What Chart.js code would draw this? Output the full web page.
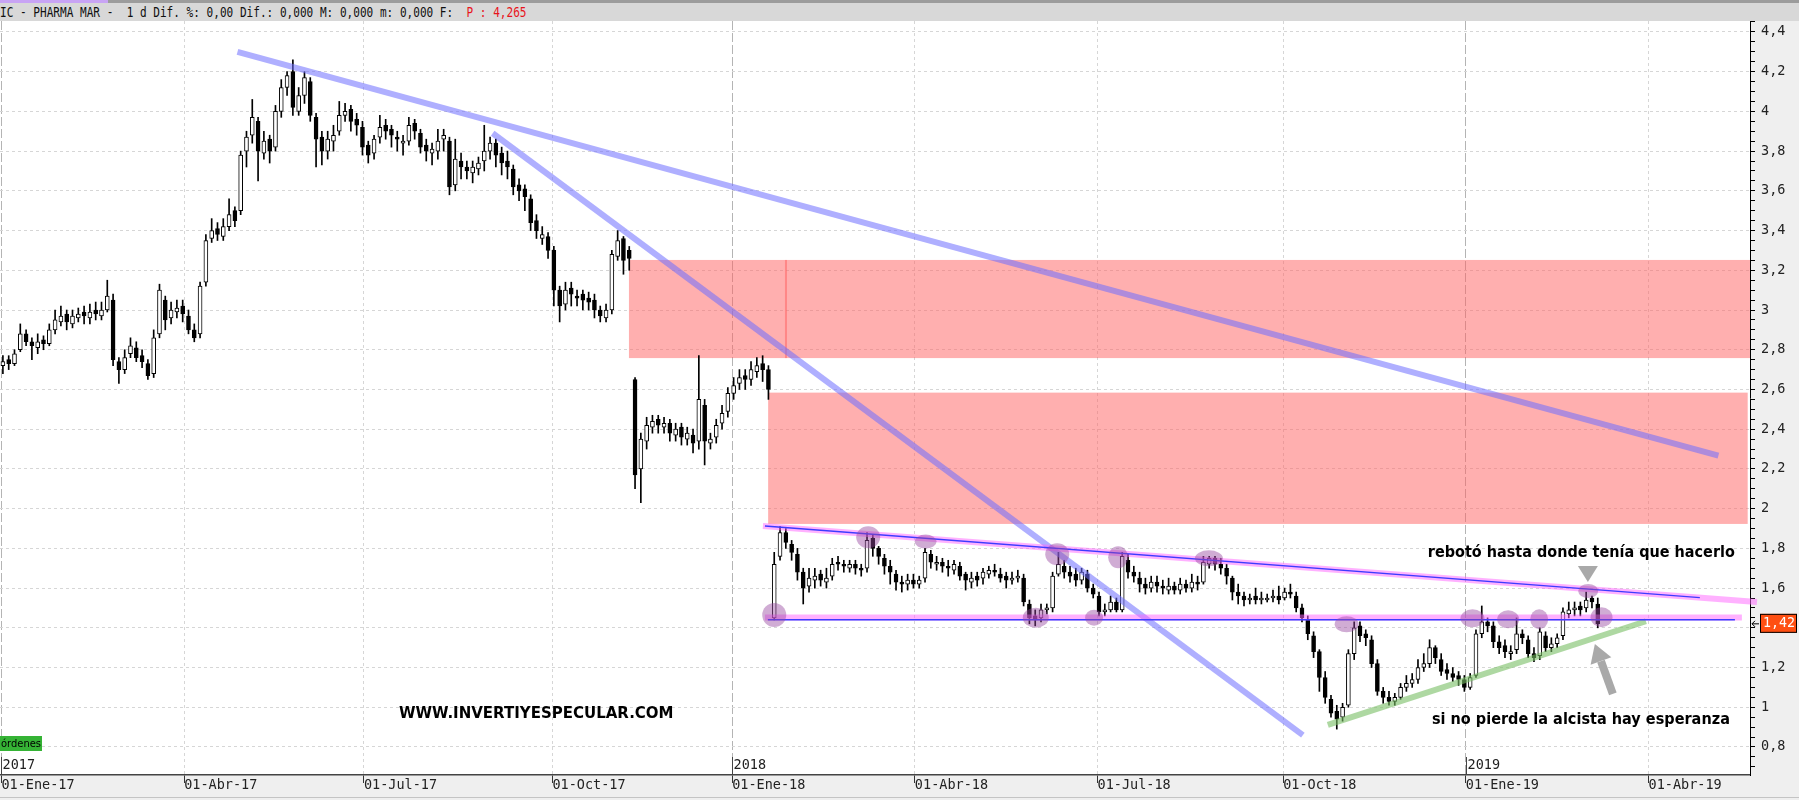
<!DOCTYPE html>
<html>
<head>
<meta charset="utf-8">
<script src="https://cdn.jsdelivr.net/npm/chart.js@4.4.1/dist/chart.umd.min.js"></script>
<style>
  html, body { margin: 0; padding: 0; background: #fff; overflow: hidden; }
  #wrap { position: relative; width: 1799px; height: 800px; }
  #chart { position: absolute; left: 0; top: 0; }
  #hdr { position: absolute; left: 0; top: 0; width: 1799px; height: 21px; background: #d8d8d8;
         border-top: 3px solid #9c9c9c; box-sizing: border-box; }
  #hdr .tab { position: absolute; left: 0; top: -3px; width: 108px; height: 3px; background: #c8a4f4; }
  #hdr .txt { position: absolute; left: 0; top: 1px; white-space: pre; font: 13.5px "DejaVu Sans Mono", monospace;
              color: #111; transform: scaleX(0.82); transform-origin: left top; }
  #hdr .txt span { color: #e8141c; }
</style>
</head>
<body>
<div id="wrap">
  <canvas id="chart" width="1799" height="800"></canvas>
  <div id="hdr"><div class="tab"></div><div class="txt">IC - PHARMA MAR -  1 d Dif. %: 0,00 Dif.: 0,000 M: 0,000 m: 0,000 F:  <span>P : 4,265</span></div></div>
</div>
<script>
// each candle = 2 trading days, starting 2 Jan 2017
const periodDays = 2;
const opens = [
  2.72,2.75,2.73,2.8,2.88,2.84,2.81,2.85,2.83,2.9,2.94,2.98,
  2.93,2.96,2.99,2.96,3.0,2.97,3.0,3.05,2.74,2.7,2.78,2.81,
  2.77,2.73,2.68,2.88,3.05,2.96,2.99,3.02,2.97,2.9,2.88,3.14,
  3.36,3.41,3.37,3.42,3.5,3.5,3.8,3.88,3.95,3.79,3.86,3.82,
  4.0,4.12,4.2,4.0,4.08,4.15,3.97,3.87,3.8,3.85,3.9,3.98,
  4.01,3.96,3.92,3.83,3.79,3.87,3.93,3.91,3.87,3.84,3.85,3.94,
  3.89,3.83,3.79,3.8,3.86,3.85,3.63,3.75,3.72,3.69,3.71,3.75,
  3.8,3.84,3.79,3.75,3.71,3.63,3.61,3.56,3.45,3.36,3.37,3.3,
  3.1,3.03,3.11,3.07,3.08,3.06,3.05,3.0,2.96,3.0,3.27,3.36,
  3.3,2.65,2.2,2.34,2.41,2.45,2.41,2.43,2.37,2.41,2.35,2.37,
  2.34,2.52,2.33,2.36,2.43,2.49,2.58,2.63,2.67,2.65,2.69,2.73,
  2.7,1.45,1.76,1.88,1.82,1.77,1.68,1.61,1.64,1.67,1.63,1.66,
  1.73,1.72,1.7,1.72,1.7,1.7,1.85,1.8,1.75,1.71,1.67,1.63,
  1.62,1.64,1.62,1.65,1.77,1.72,1.73,1.71,1.69,1.71,1.67,1.63,
  1.66,1.65,1.67,1.69,1.67,1.66,1.64,1.65,1.65,1.52,1.46,1.45,
  1.49,1.5,1.67,1.71,1.68,1.67,1.64,1.67,1.6,1.56,1.48,1.49,
  1.53,1.49,1.74,1.68,1.65,1.62,1.6,1.63,1.61,1.59,1.61,1.59,
  1.62,1.6,1.63,1.63,1.72,1.75,1.72,1.7,1.65,1.58,1.56,1.54,
  1.56,1.54,1.54,1.55,1.56,1.55,1.58,1.56,1.5,1.44,1.36,1.28,
  1.15,1.04,0.98,0.95,1.01,1.27,1.41,1.37,1.34,1.22,1.08,1.05,
  1.03,1.05,1.1,1.12,1.14,1.2,1.22,1.3,1.24,1.19,1.17,1.16,
  1.14,1.1,1.16,1.37,1.43,1.41,1.33,1.31,1.27,1.29,1.37,1.34,
  1.27,1.26,1.36,1.3,1.32,1.36,1.47,1.49,1.51,1.5,1.55,1.52
];
const highs = [
  2.77,2.77,2.8,2.93,2.9,2.86,2.88,2.87,2.93,3.0,3.02,3.0,
  3.0,3.01,3.02,3.03,3.04,3.04,3.15,3.08,2.76,2.8,2.86,2.84,
  2.8,2.75,2.9,3.13,3.07,3.04,3.05,3.05,3.0,2.93,3.14,3.38,
  3.46,3.44,3.46,3.56,3.52,3.8,3.9,4.06,3.97,3.9,3.88,4.03,
  4.16,4.2,4.26,4.12,4.2,4.17,3.99,3.9,3.9,3.93,4.05,4.04,
  4.03,3.99,3.95,3.85,3.88,3.98,3.96,3.93,3.9,3.88,3.97,3.96,
  3.91,3.86,3.84,3.91,3.91,3.87,3.86,3.79,3.75,3.75,3.77,3.93,
  3.87,3.86,3.82,3.8,3.73,3.66,3.63,3.58,3.48,3.42,3.39,3.32,
  3.12,3.14,3.14,3.1,3.1,3.09,3.08,3.02,3.03,3.3,3.4,3.37,
  3.32,2.66,2.38,2.46,2.47,2.47,2.46,2.45,2.43,2.43,2.41,2.4,
  2.77,2.55,2.38,2.45,2.52,2.61,2.66,2.7,2.7,2.74,2.76,2.77,
  2.72,1.78,1.91,1.9,1.84,1.8,1.7,1.7,1.7,1.69,1.7,1.75,
  1.76,1.74,1.74,1.74,1.72,1.88,1.87,1.81,1.77,1.74,1.69,1.66,
  1.67,1.67,1.66,1.8,1.79,1.76,1.75,1.74,1.74,1.73,1.68,1.68,
  1.68,1.7,1.71,1.72,1.7,1.68,1.68,1.69,1.67,1.54,1.49,1.52,
  1.52,1.68,1.78,1.74,1.71,1.7,1.7,1.69,1.62,1.58,1.52,1.56,
  1.55,1.78,1.77,1.71,1.68,1.65,1.66,1.66,1.64,1.65,1.63,1.65,
  1.64,1.67,1.66,1.76,1.76,1.76,1.75,1.72,1.66,1.62,1.58,1.57,
  1.6,1.58,1.57,1.59,1.61,1.6,1.62,1.58,1.52,1.46,1.38,1.29,
  1.18,1.06,1.01,1.02,1.29,1.43,1.43,1.39,1.36,1.24,1.1,1.08,
  1.07,1.12,1.16,1.17,1.24,1.27,1.34,1.31,1.27,1.22,1.2,1.18,
  1.16,1.17,1.39,1.51,1.45,1.43,1.36,1.34,1.31,1.45,1.39,1.36,
  1.3,1.4,1.38,1.35,1.37,1.5,1.53,1.53,1.53,1.58,1.56,1.55
];
const lows = [
  2.68,2.7,2.72,2.79,2.82,2.75,2.78,2.8,2.82,2.88,2.92,2.9,
  2.91,2.94,2.93,2.93,2.95,2.95,2.99,2.72,2.63,2.68,2.76,2.74,
  2.71,2.65,2.66,2.86,2.9,2.93,2.96,2.94,2.88,2.84,2.86,3.12,
  3.34,3.35,3.35,3.4,3.42,3.48,3.72,3.84,3.65,3.76,3.74,3.8,
  3.97,4.08,3.98,3.98,4.04,3.95,3.72,3.73,3.76,3.8,3.88,3.95,
  3.9,3.88,3.78,3.74,3.76,3.84,3.86,3.82,3.8,3.78,3.83,3.86,
  3.79,3.75,3.73,3.76,3.8,3.58,3.6,3.66,3.66,3.64,3.68,3.7,
  3.76,3.72,3.68,3.66,3.58,3.55,3.5,3.4,3.36,3.33,3.26,3.02,
  2.94,3.0,3.02,3.02,3.0,3.0,2.96,2.94,2.94,2.98,3.25,3.18,
  3.2,2.1,2.03,2.3,2.38,2.38,2.38,2.34,2.34,2.32,2.32,2.28,
  2.3,2.22,2.3,2.33,2.4,2.46,2.55,2.6,2.6,2.62,2.66,2.64,
  2.55,1.44,1.74,1.8,1.74,1.64,1.52,1.58,1.6,1.61,1.6,1.64,
  1.69,1.68,1.68,1.67,1.66,1.68,1.76,1.72,1.67,1.62,1.59,1.58,
  1.59,1.6,1.6,1.63,1.7,1.69,1.68,1.66,1.67,1.64,1.59,1.6,
  1.61,1.62,1.65,1.66,1.63,1.6,1.62,1.63,1.51,1.42,1.41,1.43,
  1.47,1.48,1.66,1.65,1.63,1.61,1.62,1.58,1.55,1.46,1.46,1.48,
  1.48,1.48,1.65,1.63,1.58,1.57,1.58,1.58,1.57,1.57,1.57,1.57,
  1.58,1.58,1.59,1.62,1.7,1.69,1.67,1.62,1.54,1.52,1.51,1.52,
  1.52,1.52,1.53,1.53,1.52,1.54,1.55,1.48,1.43,1.34,1.25,1.08,
  1.02,0.95,0.89,0.93,1.0,1.24,1.33,1.31,1.2,1.06,1.02,1.01,
  1.01,1.04,1.08,1.1,1.12,1.18,1.2,1.22,1.16,1.14,1.13,1.11,
  1.08,1.09,1.15,1.35,1.38,1.3,1.27,1.25,1.24,1.27,1.32,1.25,
  1.23,1.24,1.28,1.28,1.3,1.34,1.45,1.46,1.46,1.48,1.5,1.4
];
const closes = [
  2.74,2.73,2.78,2.88,2.84,2.82,2.84,2.83,2.9,2.95,2.97,2.94,
  2.97,2.98,2.97,2.99,2.98,3.0,3.07,2.75,2.7,2.76,2.82,2.76,
  2.74,2.67,2.86,3.1,2.95,3.0,3.01,2.98,2.9,2.86,3.12,3.35,
  3.4,3.38,3.42,3.48,3.45,3.78,3.87,3.97,3.8,3.85,3.8,4.0,
  4.12,4.18,4.02,4.08,4.17,3.98,3.86,3.8,3.86,3.88,3.98,4.0,
  3.95,3.93,3.82,3.78,3.86,3.92,3.9,3.88,3.86,3.85,3.93,3.9,
  3.82,3.8,3.81,3.85,3.88,3.62,3.76,3.72,3.7,3.72,3.74,3.8,
  3.84,3.78,3.74,3.72,3.62,3.6,3.57,3.44,3.4,3.38,3.3,3.1,
  3.02,3.1,3.08,3.06,3.05,3.04,3.0,2.97,3.0,3.28,3.35,3.25,
  3.26,2.17,2.35,2.42,2.44,2.42,2.43,2.38,2.4,2.36,2.38,2.33,
  2.55,2.34,2.35,2.42,2.48,2.58,2.62,2.66,2.65,2.7,2.72,2.7,
  2.6,1.72,1.88,1.83,1.78,1.68,1.6,1.65,1.66,1.64,1.65,1.72,
  1.72,1.71,1.72,1.7,1.69,1.84,1.8,1.76,1.71,1.68,1.63,1.62,
  1.64,1.62,1.64,1.78,1.73,1.73,1.71,1.7,1.72,1.66,1.64,1.65,
  1.64,1.68,1.69,1.68,1.65,1.64,1.65,1.66,1.53,1.45,1.44,1.49,
  1.5,1.66,1.72,1.68,1.66,1.64,1.68,1.6,1.57,1.48,1.49,1.53,
  1.49,1.76,1.68,1.66,1.62,1.6,1.63,1.61,1.6,1.61,1.59,1.62,
  1.6,1.63,1.62,1.73,1.75,1.72,1.7,1.66,1.58,1.56,1.54,1.55,
  1.54,1.55,1.55,1.56,1.54,1.58,1.57,1.5,1.45,1.37,1.28,1.15,
  1.05,0.97,0.94,1.0,1.27,1.4,1.36,1.35,1.22,1.08,1.05,1.03,
  1.05,1.1,1.12,1.14,1.2,1.22,1.3,1.25,1.18,1.17,1.15,1.14,
  1.1,1.15,1.37,1.43,1.41,1.33,1.3,1.28,1.28,1.37,1.35,1.27,
  1.25,1.38,1.3,1.32,1.35,1.48,1.49,1.5,1.49,1.54,1.53,1.42
];

// x axis in trading days since 2 Jan 2017
const xTickDays = [0, 63, 125, 190, 252, 315, 378, 442, 505, 568];
const xTickLabels = ['01-Ene-17', '01-Abr-17', '01-Jul-17', '01-Oct-17', '01-Ene-18',
                     '01-Abr-18', '01-Jul-18', '01-Oct-18', '01-Ene-19', '01-Abr-19'];
const yearLabels = ['2017', '2018', '2019'];
const yearTickIdx = [0, 4, 8];
const yTickValues = [0.8, 1, 1.2, 1.4, 1.6, 1.8, 2, 2.2, 2.4, 2.6, 2.8, 3, 3.2, 3.4, 3.6, 3.8, 4, 4.2, 4.4];
const yTickLabels = ['0,8', '1', '1,2', '1,4', '1,6', '1,8', '2', '2,2', '2,4', '2,6', '2,8', '3',
                     '3,2', '3,4', '3,6', '3,8', '4', '4,2', '4,4'];

// drawings on the chart, in (trading day, price)
const zones = [
  { d0: 216.4, d1: 270.9, v0: 2.758, v1: 3.252 },
  { d0: 270.2, d1: 603, v0: 2.758, v1: 3.252 },
  { d0: 264.4, d1: 602.2, v0: 1.923, v1: 2.584 }
];
const thickLines = [
  { a: [81.4, 4.30], b: [592.1, 2.267], color: 'rgba(110,110,255,0.55)' },
  { a: [169.4, 3.89], b: [448.8, 0.86], color: 'rgba(110,110,255,0.55)' },
  { a: [262.6, 1.913], b: [605.4, 1.530], color: 'rgba(255,100,255,0.5)' },
  { a: [263.3, 1.452], b: [600.2, 1.452], color: 'rgba(255,100,255,0.5)' },
  { a: [457.4, 0.911], b: [567.1, 1.433], color: 'rgba(120,190,100,0.6)' }
];
const thinLines = [
  { a: [263.3, 1.913], b: [585.7, 1.552] },
  { a: [264.3, 1.44], b: [597.8, 1.44] }
];
const circles = [
  [266.5, 1.464, 12, 12], [298.9, 1.856, 12, 11], [318.7, 1.834, 11, 7],
  [356.7, 1.451, 13, 10], [364.1, 1.77, 12, 11], [376.8, 1.451, 9, 8],
  [385.1, 1.755, 10, 11], [416.4, 1.75, 14, 8], [463.9, 1.418, 12, 8],
  [507.3, 1.448, 12, 9], [519.6, 1.443, 11, 9], [530.3, 1.443, 9, 10],
  [547.2, 1.585, 10, 7], [551.8, 1.453, 11, 10]
];
const notes = [
  { text: 'rebotó hasta donde tenía que hacerlo', d: 491.9, v: 1.777, w: 307 },
  { text: 'si no pierde la alcista hay esperanza', d: 493.3, v: 0.933, w: 298 },
  { text: 'WWW.INVERTIYESPECULAR.COM', d: 137.1, v: 0.968, w: 280 }
];
const downMarker = { d: 547.1, v: 1.711 };
const upArrow = { tip: [549.5, 1.318], tail: [555.7, 1.067] };

const bodyData = opens.map((o, i) => ({ x: i * periodDays + 0.5, y: [o, closes[i]] }));
const wickData = lows.map((l, i) => ({ x: i * periodDays + 0.5, y: [l, highs[i]] }));

const decor = {
  id: 'decor',
  beforeDraw(chart) {
    const { ctx, chartArea: a } = chart;
    ctx.save();
    ctx.fillStyle = '#efefef';
    ctx.fillRect(0, 0, chart.width, chart.height);
    ctx.fillStyle = '#fff';
    ctx.fillRect(a.left, a.top, a.right - a.left, a.bottom - a.top);
    ctx.fillStyle = '#c4c4c4';
    ctx.fillRect(0, 797, chart.width, 1);
    ctx.restore();
  },
  beforeDatasetsDraw(chart) {
    const { ctx, scales: { x, y } } = chart;
    ctx.save();
    ctx.fillStyle = 'rgba(255,95,95,0.5)';
    zones.forEach(z => {
      const x0 = x.getPixelForValue(z.d0), x1 = x.getPixelForValue(z.d1);
      const y0 = y.getPixelForValue(z.v1), y1 = y.getPixelForValue(z.v0);
      ctx.fillRect(x0, y0, x1 - x0, y1 - y0);
    });
    ctx.restore();
  },
  afterDatasetsDraw(chart) {
    const { ctx, chartArea: a, scales: { x, y } } = chart;
    const P = (d, v) => [x.getPixelForValue(d), y.getPixelForValue(v)];
    ctx.save();
    ctx.lineCap = 'butt';
    thickLines.forEach(l => {
      const p = P(l.a[0], l.a[1]), q = P(l.b[0], l.b[1]);
      ctx.strokeStyle = l.color; ctx.lineWidth = 6;
      ctx.beginPath(); ctx.moveTo(p[0], p[1]); ctx.lineTo(q[0], q[1]); ctx.stroke();
    });
    thinLines.forEach(l => {
      const p = P(l.a[0], l.a[1]), q = P(l.b[0], l.b[1]);
      ctx.strokeStyle = '#3c3cff'; ctx.lineWidth = 1.5;
      ctx.beginPath(); ctx.moveTo(p[0], p[1]); ctx.lineTo(q[0], q[1]); ctx.stroke();
    });
    ctx.fillStyle = 'rgba(150,70,160,0.45)';
    circles.forEach(c => {
      const p = P(c[0], c[1]);
      ctx.beginPath(); ctx.ellipse(p[0], p[1], c[2], c[3], 0, 0, Math.PI * 2); ctx.fill();
    });

    // gray markers
    ctx.fillStyle = '#a9a9a9'; ctx.strokeStyle = '#a9a9a9';
    const t = P(downMarker.d, downMarker.v);
    ctx.beginPath(); ctx.moveTo(t[0] - 10, t[1]); ctx.lineTo(t[0] + 10, t[1]); ctx.lineTo(t[0], t[1] + 16); ctx.closePath(); ctx.fill();
    const tip = P(upArrow.tip[0], upArrow.tip[1]), tail = P(upArrow.tail[0], upArrow.tail[1]);
    const ang = Math.atan2(tip[1] - tail[1], tip[0] - tail[0]);
    const hx = tip[0] - 18 * Math.cos(ang), hy = tip[1] - 18 * Math.sin(ang);
    ctx.lineWidth = 8;
    ctx.beginPath(); ctx.moveTo(tail[0], tail[1]); ctx.lineTo(hx, hy); ctx.stroke();
    ctx.beginPath();
    ctx.moveTo(tip[0], tip[1]);
    ctx.lineTo(hx + 11 * Math.sin(ang), hy - 11 * Math.cos(ang));
    ctx.lineTo(hx - 11 * Math.sin(ang), hy + 11 * Math.cos(ang));
    ctx.closePath(); ctx.fill();

    // texts
    ctx.fillStyle = '#000';
    ctx.font = 'bold 15px "DejaVu Sans", sans-serif';
    ctx.textBaseline = 'middle'; ctx.textAlign = 'left';
    notes.forEach(n => {
      const p = P(n.d, n.v);
      ctx.fillText(n.text, p[0], p[1], n.w);
    });

    // year marks at the bottom of the plot
    ctx.font = '13.5px "DejaVu Sans Mono", monospace';
    ctx.fillStyle = '#222'; ctx.strokeStyle = '#444'; ctx.lineWidth = 1;
    yearTickIdx.forEach((k, j) => {
      const px = Math.round(x.getPixelForValue(xTickDays[k])) + 0.5;
      ctx.beginPath(); ctx.moveTo(px, a.bottom - 18); ctx.lineTo(px, a.bottom); ctx.stroke();
      ctx.fillText(yearLabels[j], px + 1, a.bottom - 10);
    });

    // orders tag
    ctx.fillStyle = '#35b335';
    ctx.fillRect(0, a.bottom - 39, 42, 15);
    ctx.fillStyle = '#000';
    ctx.font = '11px "DejaVu Sans", sans-serif';
    ctx.fillText('órdenes', 1, a.bottom - 31, 40);
    ctx.restore();
  },
  afterDraw(chart) {
    const { ctx, chartArea: a, scales: { y } } = chart;
    const last = closes[closes.length - 1];
    const py = y.getPixelForValue(last);
    ctx.save();
    ctx.fillStyle = '#ff4f12';
    ctx.fillRect(a.right + 10, py - 10, 37, 19);
    ctx.strokeStyle = '#000'; ctx.lineWidth = 1;
    ctx.strokeRect(a.right + 10.5, py - 9.5, 36, 18);
    ctx.fillStyle = '#fff';
    ctx.font = '14px "DejaVu Sans Mono", monospace';
    ctx.textBaseline = 'middle'; ctx.textAlign = 'left';
    ctx.fillText(String(last).replace('.', ','), a.right + 13, py, 32);
    ctx.strokeStyle = '#000';
    ctx.beginPath();
    ctx.moveTo(a.right + 9, py); ctx.lineTo(a.right + 2, py);
    ctx.moveTo(a.right + 5, py - 3); ctx.lineTo(a.right + 2, py); ctx.lineTo(a.right + 5, py + 3);
    ctx.stroke();
    ctx.restore();
  }
};

const axisFont = { family: '"DejaVu Sans Mono", monospace', size: 13.5 };

new Chart(document.getElementById('chart'), {
  type: 'bar',
  data: {
    datasets: [
      {
        label: 'body',
        data: bodyData,
        barThickness: 4,
        borderWidth: 1,
        borderColor: '#000',
        borderSkipped: false,
        backgroundColor: ctx => (closes[ctx.dataIndex] >= opens[ctx.dataIndex] ? '#fff' : '#000'),
        grouped: false
      },
      {
        label: 'wick',
        data: wickData,
        barThickness: 1,
        borderWidth: 0,
        backgroundColor: '#000',
        grouped: false
      }
    ]
  },
  options: {
    responsive: false,
    animation: false,
    devicePixelRatio: 1,
    layout: { padding: { top: 21, left: 0, right: 0, bottom: 3 } },
    plugins: { legend: { display: false }, tooltip: { enabled: false } },
    scales: {
      x: {
        type: 'linear',
        min: -0.5,
        max: 603,
        offset: false,
        afterBuildTicks: s => { s.ticks = xTickDays.map((v, i) => ({ value: v, lbl: xTickLabels[i] })); },
        afterFit: s => { s.height = 22; s.paddingLeft = 0; s.paddingRight = 0; },
        grid: {
          offset: false,
          color: c => (yearTickIdx.includes(c.index) ? '#b4b4b4' : '#d6d6d6'),
          tickColor: '#333',
          tickLength: 8
        },
        border: {
          color: '#444',
          width: 1.5,
          dash: c => (yearTickIdx.includes(c.index) ? [9, 3] : [3, 3])
        },
        ticks: {
          autoSkip: false,
          maxRotation: 0,
          minRotation: 0,
          align: 'start',
          padding: -6,
          color: '#222',
          font: axisFont,
          callback: (v, i, ticks) => ticks[i].lbl
        }
      },
      y: {
        position: 'right',
        min: 0.659,
        max: 4.455,
        afterBuildTicks: s => {
          const t = [];
          for (let k = 14; k <= 89; k++) {
            const v = Math.round(k * 5) / 100;
            const j = yTickValues.findIndex(m => Math.abs(m - v) < 1e-6);
            t.push({ value: v, lbl: j >= 0 ? yTickLabels[j] : '', major: j >= 0 });
          }
          s.ticks = t;
        },
        afterFit: s => { s.width = 49; s.paddingTop = 0; s.paddingBottom = 0; },
        grid: {
          color: c => (c.tick && c.tick.major ? '#d6d6d6' : 'rgba(0,0,0,0)'),
          tickColor: '#000',
          tickLength: 5
        },
        border: { color: '#000', width: 1, dash: [3, 3] },
        ticks: {
          autoSkip: false,
          padding: 6,
          color: '#222',
          font: axisFont,
          callback: (v, i, ticks) => ticks[i].lbl
        }
      }
    }
  },
  plugins: [decor]
});
</script>
</body>
</html>
